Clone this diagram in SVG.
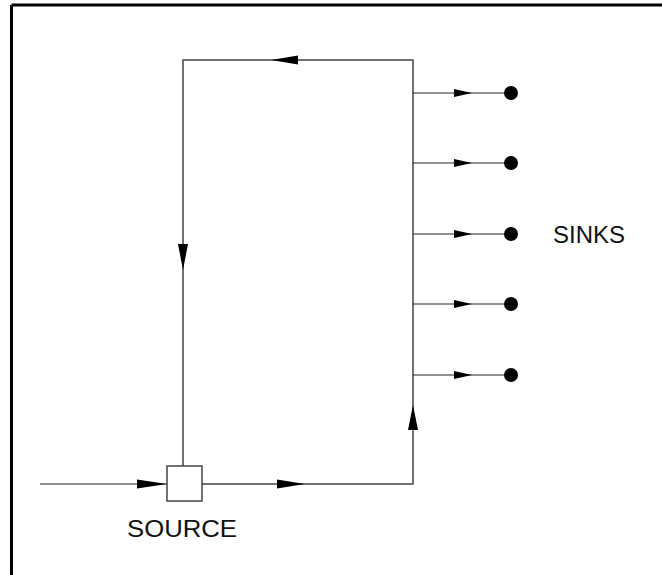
<svg xmlns="http://www.w3.org/2000/svg" width="662" height="575" viewBox="0 0 662 575">
<style>
.frame{stroke:#000;stroke-width:3;fill:none}
.loop{stroke:#444;stroke-width:1.5;fill:none}
.br{stroke:#222;stroke-width:1.2;fill:none}
.ah{fill:#000}
.lbl{font-family:"Liberation Sans",Arial,sans-serif;fill:#111}
</style>
<rect width="662" height="575" fill="#fff"/>
<g id="frame">
<line class="frame" x1="11.5" y1="5" x2="662" y2="5"/>
<line class="frame" x1="11.5" y1="5" x2="11.5" y2="575"/>
</g>
<g id="connectors">
<line class="br" x1="40" y1="484" x2="167" y2="484"/>
<polygon class="ah" points="137,479.5 167,484 137,488.5"/>
<polyline class="loop" points="183,466 183,60 413,60 413,484 202,484"/>
<polygon class="ah" points="178,244 188,244 183,270"/>
<polygon class="ah" points="298,55.5 298,64.5 271,60"/>
<polygon class="ah" points="277,479.5 277,488.5 305,484"/>
<polygon class="ah" points="408,430 418,430 413,405"/>
<g id="branches">
<line class="br" x1="413" y1="93" x2="511" y2="93"/>
<line class="br" x1="413" y1="163" x2="511" y2="163"/>
<line class="br" x1="413" y1="234" x2="511" y2="234"/>
<line class="br" x1="413" y1="304" x2="511" y2="304"/>
<line class="br" x1="413" y1="375" x2="511" y2="375"/>
<polygon class="ah" points="454,89 472,93 454,97"/>
<polygon class="ah" points="454,159 472,163 454,167"/>
<polygon class="ah" points="454,230 472,234 454,238"/>
<polygon class="ah" points="454,300 472,304 454,308"/>
<polygon class="ah" points="454,371 472,375 454,379"/>
</g>
</g>
<g id="source">
<rect x="167" y="466" width="35" height="35" fill="#fff" stroke="#444" stroke-width="1.5"/>
<text class="lbl" x="127" y="537" font-size="24" textLength="110" lengthAdjust="spacingAndGlyphs">SOURCE</text>
</g>
<g id="sinks">
<circle cx="511" cy="93" r="7"/>
<circle cx="511" cy="163" r="7"/>
<circle cx="511" cy="234" r="7"/>
<circle cx="511" cy="304" r="7"/>
<circle cx="511" cy="375" r="7"/>
<text class="lbl" x="553" y="243" font-size="24" textLength="72" lengthAdjust="spacingAndGlyphs">SINKS</text>
</g>
</svg>
